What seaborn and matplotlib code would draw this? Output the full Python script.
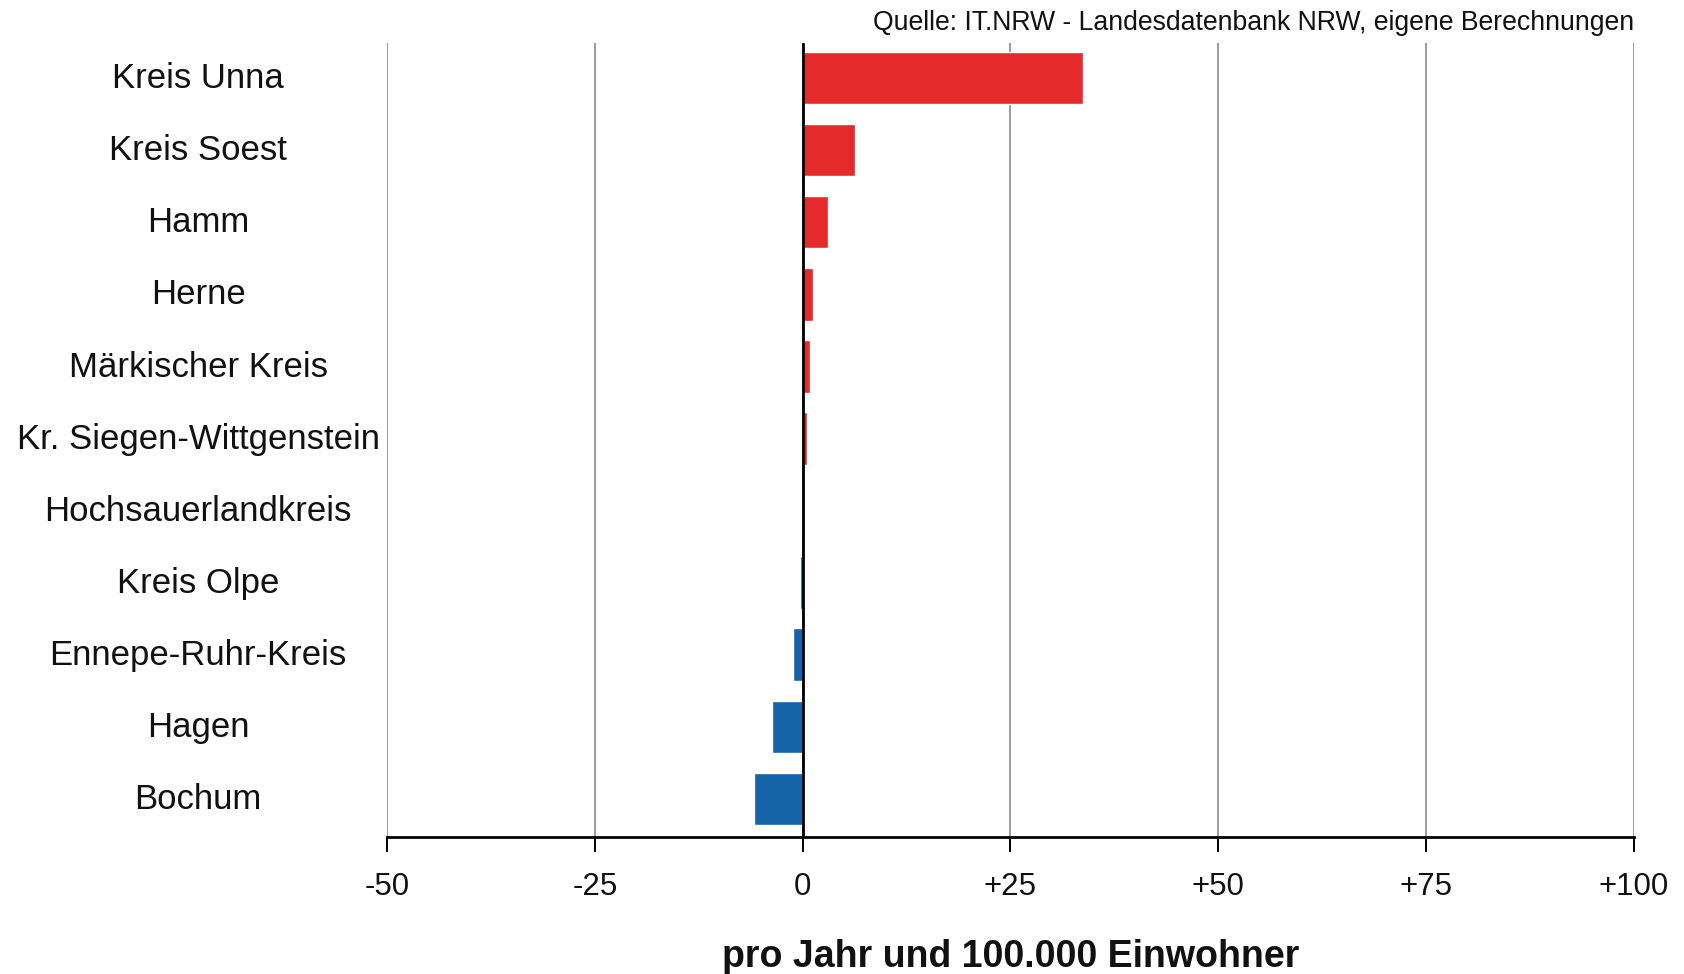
import matplotlib
matplotlib.use("Agg")
import matplotlib.pyplot as plt
import matplotlib.transforms as mtransforms
import pandas as pd
import seaborn as sns


regions = [
    "Kreis Unna",
    "Kreis Soest",
    "Hamm",
    "Herne",
    "Märkischer Kreis",
    "Kr. Siegen-Wittgenstein",
    "Hochsauerlandkreis",
    "Kreis Olpe",
    "Ennepe-Ruhr-Kreis",
    "Hagen",
    "Bochum",
]
values = [33.7, 6.3, 3.0, 1.2, 0.9, 0.5, 0.3, -0.3, -1.2, -3.7, -5.9]

ticks = [-50, -25, 0, 25, 50, 75, 100]
tick_labels = ["-50", "-25", "0", "+25", "+50", "+75", "+100"]

source_text = "Quelle: IT.NRW - Landesdatenbank NRW, eigene Berechnungen"
x_title = "pro Jahr und 100.000 Einwohner"

RED = "#E52A2B"
BLUE = "#1563A8"
GRID = "#9c9c9c"
INK = "#111111"


def main():
    sns.set_theme(style="white")
    plt.rcParams["font.family"] = ["Liberation Sans", "DejaVu Sans"]

    df = pd.DataFrame({"region": regions, "value": values})
    df["sign"] = ["pos" if v >= 0 else "neg" for v in df["value"]]

    fig = plt.figure(figsize=(16.84, 9.74), dpi=100)
    ax = fig.add_axes([0.2298, 0.1407, 0.7405, 0.8152])

    for t in ticks:
        ax.axvline(t, color=GRID, lw=1.4, zorder=0)

    sns.barplot(
        data=df,
        x="value",
        y="region",
        hue="sign",
        palette={"pos": RED, "neg": BLUE},
        order=regions,
        orient="h",
        width=0.73,
        dodge=False,
        legend=False,
        saturation=1,
        ax=ax,
    )
    ax.axvline(0, color="black", lw=2, zorder=4)

    ax.set_xlim(-50, 100)
    ax.set_ylim(10.527, -0.485)
    ax.set_xticks(ticks)
    ax.set_xticklabels(tick_labels)

    for side in ["top", "left", "right"]:
        ax.spines[side].set_visible(False)
    ax.spines["bottom"].set_color("black")
    ax.spines["bottom"].set_linewidth(2)

    ax.tick_params(axis="x", bottom=True, length=11, width=1.4, color="black",
                   pad=14, labelsize=22.5, labelcolor=INK, direction="out")
    ax.tick_params(axis="y", left=False, length=0, pad=136, labelsize=25, labelcolor=INK)

    # region names sit centred in the left margin, nudged up a touch
    nudge = mtransforms.ScaledTranslation(0, 0.028, fig.dpi_scale_trans)
    for tick in ax.yaxis.get_major_ticks():
        tick.label1.set_ha("center")
        tick.label1.set_transform(tick.label1.get_transform() + nudge)

    ax.set_ylabel("")
    ax.set_xlabel(x_title, fontsize=27, fontweight="bold", color=INK, va="center")
    ax.xaxis.set_label_coords(0.5, -0.1514)

    fig.text(1634 / 1684, 1 - 23.5 / 974, source_text, ha="right", va="center",
             fontsize=19.2, color=INK)

    fig.savefig("out.png", dpi=100, facecolor="white")
    plt.close(fig)


if __name__ == "__main__":
    main()
